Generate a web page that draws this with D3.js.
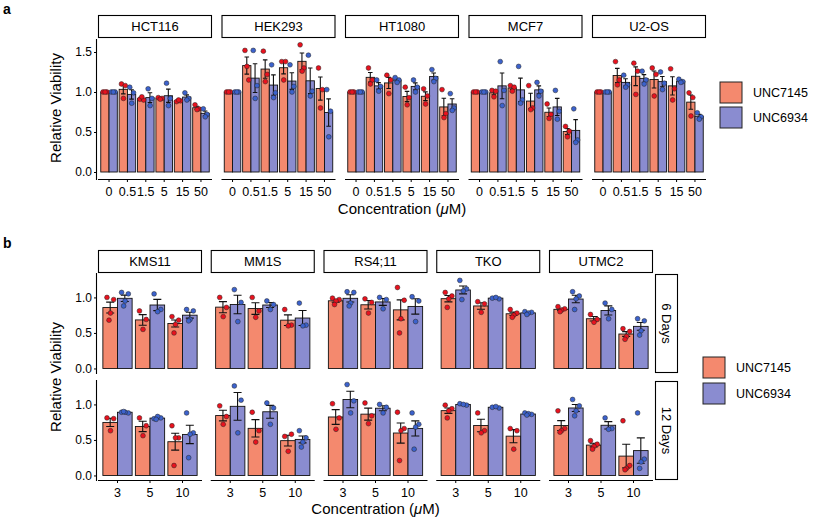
<!DOCTYPE html>
<html><head><meta charset="utf-8">
<script src="https://cdn.jsdelivr.net/npm/d3@7"></script>
<style>
body{margin:0;background:#fff}
text{font-family:"Liberation Sans",Arial,Helvetica,sans-serif;fill:#000}
</style>
</head><body>
<svg id="c" width="813" height="521"></svg>
<script>
// ---------- DATA ----------
const compounds = ["UNC7145", "UNC6934"];
const concA = ["0", "0.5", "1.5", "5", "15", "50"];
const cellsA = ["HCT116", "HEK293", "HT1080", "MCF7", "U2-OS"];
const yTicksA = [0, 0.5, 1.0, 1.5];
const concB = ["3", "5", "10"];
const cellsB = ["KMS11", "MM1S", "RS4;11", "TKO", "UTMC2"];
const daysB = ["6 Days", "12 Days"];
const yTicksB = [0, 0.5, 1.0];

// panel a replicates (per concentration)
const HCT116_UNC7145 = [[1,1,1],[1.10,1.08,0.92],[0.91,0.90,0.94],[0.93,0.92,0.91],[0.88,0.89,0.90],[0.84,0.79,0.78]];
const HCT116_UNC6934 = [[1,1,1],[1.06,0.99,0.86],[1.04,0.92,0.83],[1.11,0.92,0.83],[0.99,0.92,0.90],[0.79,0.72,0.69]];
const HEK293_UNC7145 = [[1,1,1],[1.52,1.15,1.32],[1.51,1.22,1.13],[1.38,1.38,1.15],[1.59,1.30,1.26],[1.30,1.03,0.80]];
const HEK293_UNC6934 = [[1,1,1],[1.52,1.08,0.92],[1.34,0.99,0.93],[1.34,1.07,1.00],[1.46,1.01,0.95],[1.03,0.76,0.44]];
const HT1080_UNC7145 = [[1,1,1],[1.30,1.15,1.10],[1.21,1.15,0.98],[1.06,0.93,0.84],[1.04,0.95,0.85],[1.03,0.73,0.68]];
const HT1080_UNC6934 = [[1,1,1],[1.15,1.07,1.01],[1.18,1.15,1.12],[1.15,1.06,1.00],[1.28,1.17,1.13],[0.98,0.80,0.77]];
const MCF7_UNC7145 = [[1,1,1],[1.02,1.01,0.94],[1.08,1.06,1.01],[1.08,0.80,0.78],[0.85,0.72,0.67],[0.57,0.51,0.44]];
const MCF7_UNC6934 = [[1,1,1],[1.38,1.02,0.83],[1.32,0.90,0.86],[1.12,1.01,0.95],[1.02,0.76,0.66],[0.79,0.40,0.37]];
const U2OS_UNC7145 = [[1,1,1],[1.38,1.15,1.09],[1.36,1.26,0.97],[1.30,1.22,0.95],[1.29,1.04,0.90],[0.99,0.93,0.70]];
const U2OS_UNC6934 = [[1,1,1],[1.21,1.09,1.06],[1.26,1.15,1.10],[1.25,1.11,1.03],[1.16,1.13,1.12],[0.74,0.69,0.66]];

// panel b replicates (per concentration)
const KMS11_6d_UNC7145 = [[1.00,0.97,0.78,0.68],[0.81,0.69,0.55],[0.73,0.68,0.62,0.50]];
const KMS11_6d_UNC6934 = [[1.07,1.05,0.95,0.88],[1.05,0.83,0.80],[0.83,0.81,0.69,0.67]];
const KMS11_12d_UNC7145 = [[0.81,0.80,0.63],[0.81,0.70,0.56],[0.70,0.53,0.53,0.14]];
const KMS11_12d_UNC6934 = [[0.89,0.88,0.89,0.90],[0.80,0.81,0.83,0.79],[0.88,0.60,0.58,0.25]];
const MM1S_6d_UNC7145 = [[1.00,0.86,0.73],[1.00,0.81,0.72],[0.83,0.61,0.60]];
const MM1S_6d_UNC6934 = [[1.11,0.93,0.66],[0.95,0.90,0.83],[0.92,0.61,0.60]];
const MM1S_12d_UNC7145 = [[0.98,0.83,0.72],[0.89,0.63,0.47],[0.55,0.58,0.34]];
const MM1S_12d_UNC6934 = [[1.26,1.06,0.60],[1.02,0.95,0.72],[0.63,0.53,0.47,0.40]];
const RS411_6d_UNC7145 = [[0.99,0.97,0.95,0.90],[0.98,0.93,0.78],[1.14,0.96,0.70,0.50]];
const RS411_6d_UNC6934 = [[1.08,1.07,0.92,0.88],[1.00,0.97,0.84],[1.01,0.95,0.66]];
const RS411_12d_UNC7145 = [[1.01,0.81,0.65],[1.02,0.84,0.73],[0.89,0.66,0.63,0.21]];
const RS411_12d_UNC6934 = [[1.28,1.05,0.88],[1.00,0.96,0.88],[0.88,0.72,0.68,0.37]];
const TKO_6d_UNC7145 = [[1.07,1.02,0.98,0.86],[0.94,0.91,0.79],[0.83,0.78,0.75,0.72]];
const TKO_6d_UNC6934 = [[1.24,1.12,1.09,0.97],[0.99,0.98,1.00],[0.80,0.79,0.78,0.76]];
const TKO_12d_UNC7145 = [[0.99,0.94,0.91,0.81],[0.88,0.63,0.60],[0.66,0.63,0.37]];
const TKO_12d_UNC6934 = [[1.01,0.99,1.00],[0.96,0.95,0.97],[0.88,0.86,0.87,0.85]];
const UTMC2_6d_UNC7145 = [[0.87,0.84,0.82,0.80],[0.76,0.69,0.65],[0.56,0.52,0.45,0.41]];
const UTMC2_6d_UNC6934 = [[1.08,1.02,0.98,0.83],[0.92,0.83,0.70],[0.70,0.67,0.53,0.47]];
const UTMC2_12d_UNC7145 = [[0.91,0.66,0.63,0.61],[0.49,0.44,0.41,0.37],[0.77,0.14,0.10,0.08]];
const UTMC2_12d_UNC6934 = [[1.07,0.98,0.91,0.84],[0.81,0.66,0.65],[0.88,0.23,0.19,0.10]];

// tables built from the arrays
const dataA = {
  "HCT116": [HCT116_UNC7145, HCT116_UNC6934],
  "HEK293": [HEK293_UNC7145, HEK293_UNC6934],
  "HT1080": [HT1080_UNC7145, HT1080_UNC6934],
  "MCF7": [MCF7_UNC7145, MCF7_UNC6934],
  "U2-OS": [U2OS_UNC7145, U2OS_UNC6934]
};
const dataB = {
  "6 Days": {
    "KMS11": [KMS11_6d_UNC7145, KMS11_6d_UNC6934],
    "MM1S": [MM1S_6d_UNC7145, MM1S_6d_UNC6934],
    "RS4;11": [RS411_6d_UNC7145, RS411_6d_UNC6934],
    "TKO": [TKO_6d_UNC7145, TKO_6d_UNC6934],
    "UTMC2": [UTMC2_6d_UNC7145, UTMC2_6d_UNC6934]
  },
  "12 Days": {
    "KMS11": [KMS11_12d_UNC7145, KMS11_12d_UNC6934],
    "MM1S": [MM1S_12d_UNC7145, MM1S_12d_UNC6934],
    "RS4;11": [RS411_12d_UNC7145, RS411_12d_UNC6934],
    "TKO": [TKO_12d_UNC7145, TKO_12d_UNC6934],
    "UTMC2": [UTMC2_12d_UNC7145, UTMC2_12d_UNC6934]
  }
};

// ---------- STYLE ----------
const barFill = ["#F4896E", "#8A8CD0"];
const dotFill = ["#E8121E", "#3C62CC"];
const jitter = [-0.22, 0.24, 0.02, -0.08, 0.14];

const svg = d3.select("#c");

function drawFacet(g, opts) {
  const {x0, w, y, reps, concs, showX, showY, yTicks, yBottom, yTop} = opts;
  const xb = d3.scaleBand().domain(concs).range([x0, x0 + w]).paddingInner(0.1).paddingOuter(0.15);
  const xs = d3.scaleBand().domain(compounds).range([0, xb.bandwidth()]);
  const bw = xs.bandwidth();
  const rows = [];
  compounds.forEach((cmp, ci) => {
    concs.forEach((c, k) => {
      const v = reps[ci][k];
      const m = d3.mean(v);
      const se = d3.deviation(v) / Math.sqrt(v.length);
      rows.push({cmp, ci, c, v, m, se, x: xb(c) + xs(cmp)});
    });
  });
  // bars
  g.selectAll(null).data(rows).join("rect")
    .attr("x", d => d.x).attr("width", bw)
    .attr("y", d => y(d.m)).attr("height", d => y(0) - y(d.m))
    .attr("fill", d => barFill[d.ci]).attr("stroke", "#111").attr("stroke-width", 0.9);
  // error bars
  const cap = bw * 0.55;
  rows.forEach(d => {
    if (!(d.se > 0.0001)) return;
    const cx = d.x + bw / 2;
    const p = d3.path();
    p.moveTo(cx, y(d.m - d.se)); p.lineTo(cx, y(d.m + d.se));
    p.moveTo(cx - cap / 2, y(d.m + d.se)); p.lineTo(cx + cap / 2, y(d.m + d.se));
    p.moveTo(cx - cap / 2, y(d.m - d.se)); p.lineTo(cx + cap / 2, y(d.m - d.se));
    g.append("path").attr("d", p.toString()).attr("stroke", "#111").attr("stroke-width", 1.1).attr("fill", "none");
  });
  // points
  const pts = [];
  rows.forEach(d => d.v.forEach((val, i) => pts.push({ci: d.ci, val, cx: d.x + bw / 2 + jitter[i % jitter.length] * bw})));
  g.selectAll(null).data(pts).join("circle")
    .attr("cx", d => d.cx).attr("cy", d => y(d.val)).attr("r", 2.4)
    .attr("fill", d => dotFill[d.ci]).attr("stroke", "#222").attr("stroke-width", 0.5);
  // axes
  if (showX) {
    const ax = g.append("g").attr("transform", `translate(0,${yBottom})`)
      .call(d3.axisBottom(xb).tickSize(3).tickSizeOuter(0));
    ax.select(".domain").attr("d", `M${x0},0.5H${x0 + w}`).attr("stroke", "#000").attr("stroke-width", 1.1);
    ax.selectAll(".tick line").attr("stroke", "#000");
    ax.selectAll(".tick text").attr("font-size", 12.5).attr("fill", "#000").attr("dy", "0.9em")
      .attr("font-family", "Liberation Sans, Arial, sans-serif");
  }
  if (showY) {
    const ay = g.append("g").attr("transform", `translate(${x0 - 1},0)`)
      .call(d3.axisLeft(y).tickValues(yTicks).tickFormat(d3.format(".1f")).tickSize(3).tickSizeOuter(0));
    ay.select(".domain").attr("d", `M-0.5,${yTop}V${yBottom + 1}`).attr("stroke", "#000").attr("stroke-width", 1.1);
    ay.selectAll(".tick line").attr("stroke", "#000");
    ay.selectAll(".tick text").attr("font-size", 12).attr("fill", "#000").attr("x", -5)
      .attr("font-family", "Liberation Sans, Arial, sans-serif");
  }
}

function strip(x, yy, w, h, label, rotate) {
  svg.append("rect").attr("x", x + 0.5).attr("y", yy + 0.5).attr("width", w - 1).attr("height", h - 1)
    .attr("fill", "#fff").attr("stroke", "#000").attr("stroke-width", 1.1);
  const t = svg.append("text").attr("font-size", 13).attr("text-anchor", "middle").attr("dominant-baseline", "central");
  if (rotate) t.attr("transform", `translate(${x + w / 2},${yy + h / 2}) rotate(90)`);
  else t.attr("x", x + w / 2).attr("y", yy + h / 2);
  t.text(label);
}

function legend(x, yy, gap) {
  compounds.forEach((c, i) => {
    svg.append("rect").attr("x", x).attr("y", yy + i * gap).attr("width", 22).attr("height", 21)
      .attr("fill", barFill[i]).attr("stroke", "#222").attr("stroke-width", 1);
    svg.append("text").attr("x", x + 33).attr("y", yy + i * gap + 10.5).attr("dominant-baseline", "central")
      .attr("font-size", 12.5).text(c);
  });
}

function conTitle(cx, cy) {
  const t = svg.append("text").attr("x", cx).attr("y", cy).attr("text-anchor", "middle")
    .attr("dominant-baseline", "central").attr("font-size", 15);
  t.append("tspan").text("Concentration (");
  t.append("tspan").attr("font-style", "italic").text("\u03bc");
  t.append("tspan").text("M)");
}
function yTitle(cx, cy) {
  svg.append("text").attr("transform", `translate(${cx},${cy}) rotate(-90)`).attr("text-anchor", "middle")
    .attr("dominant-baseline", "central").attr("font-size", 15).text("Relative Viability");
}

// ---------- PANEL A ----------
const aLeft = 98, aW = 114, aStep = 123.5;
const aTop = 39, aBottom = 179;
const yA = d3.scaleLinear().domain([-0.0875, 1.6625]).range([aBottom, aTop]);
cellsA.forEach((cell, i) => {
  const x0 = aLeft + i * aStep;
  strip(x0, 15, aW, 23, cell, false);
  drawFacet(svg.append("g"), {x0, w: aW, y: yA, reps: dataA[cell], concs: concA,
    showX: true, showY: i === 0, yTicks: yTicksA, yBottom: aBottom, yTop: aTop});
});
legend(720, 82, 25);
conTitle((aLeft + aLeft + 4 * aStep + aW) / 2, 208);
yTitle(55, 108);
svg.append("text").attr("x", 3).attr("y", 14).attr("font-size", 14).attr("font-weight", "bold").text("a");

// ---------- PANEL B ----------
const bLeft = 98, bW = 104, bStep = 112.75;
const rowTops = [273, 380], rowH = 100;
daysB.forEach((day, r) => {
  const top = rowTops[r], bottom = top + rowH;
  const yB = d3.scaleLinear().domain([-0.064, 1.344]).range([bottom, top]);
  cellsB.forEach((cell, i) => {
    const x0 = bLeft + i * bStep;
    if (r === 0) strip(x0, 250, bW, 23, cell, false);
    drawFacet(svg.append("g"), {x0, w: bW, y: yB, reps: dataB[day][cell], concs: concB,
      showX: r === 1, showY: i === 0, yTicks: yTicksB, yBottom: bottom, yTop: top});
  });
  strip(655, top + 1, 23, rowH - 1, day, true);
});
legend(703, 357, 26);
conTitle((bLeft + bLeft + 4 * bStep + bW) / 2, 508);
yTitle(55, 377);
svg.append("text").attr("x", 3).attr("y", 248).attr("font-size", 14).attr("font-weight", "bold").text("b");
</script>
</body></html>
